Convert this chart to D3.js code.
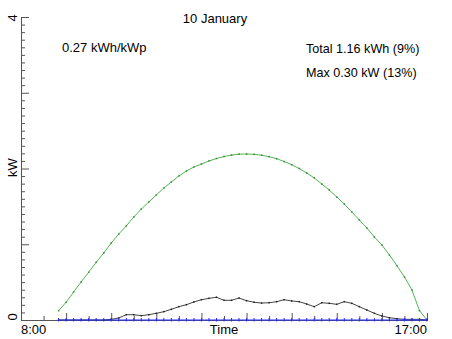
<!DOCTYPE html>
<html>
<head>
<meta charset="utf-8">
<script src="https://cdn.jsdelivr.net/npm/d3@7"></script>
<style>
  html, body { margin: 0; padding: 0; background: #fff; }
  svg { display: block; font-family: "Liberation Sans", Arial, sans-serif; }
</style>
</head>
<body>
<svg id="chart" width="452" height="339"></svg>
<script>
// Sample times (10-minute readings)
const sampleTimes = [
  "08:50","09:00","09:10","09:20","09:30","09:40","09:50","10:00","10:10","10:20",
  "10:30","10:40","10:50","11:00","11:10","11:20","11:30","11:40","11:50","12:00",
  "12:10","12:20","12:30","12:40","12:50","13:00","13:10","13:20","13:30","13:40",
  "13:50","14:00","14:10","14:20","14:30","14:40","14:50","15:00","15:10","15:20",
  "15:30","15:40","15:50","16:00","16:10","16:20","16:30","16:40","16:50","17:00"
];

// Expected (clear-sky) output, kW
const expectedKW = [
  0.123,0.234,0.370,0.502,0.630,0.762,0.884,1.017,1.135,1.241,
  1.360,1.465,1.558,1.650,1.743,1.822,1.901,1.967,2.020,2.059,
  2.099,2.132,2.158,2.178,2.189,2.191,2.187,2.176,2.156,2.129,
  2.092,2.050,2.000,1.941,1.875,1.795,1.716,1.624,1.531,1.426,
  1.320,1.215,1.096,0.990,0.858,0.717,0.568,0.396,0.123,0.000
];

// Measured output, kW
const measuredKW = [
  0.000,0.000,0.000,0.000,0.000,0.000,0.000,0.009,0.026,0.070,
  0.070,0.057,0.070,0.088,0.110,0.141,0.176,0.202,0.238,0.268,
  0.286,0.300,0.260,0.260,0.290,0.255,0.234,0.224,0.228,0.242,
  0.268,0.251,0.242,0.211,0.176,0.228,0.220,0.207,0.242,0.220,
  0.176,0.132,0.088,0.053,0.030,0.017,0.009,0.009,0.009,0.000
];

// Fault / shortfall channel, kW
const faultKW = [
  0,0,0,0,0,0,0,0,0,0, 0,0,0,0,0,0,0,0,0,0,
  0,0,0,0,0,0,0,0,0,0, 0,0,0,0,0,0,0,0,0,0,
  0,0,0,0,0,0,0,0,0,0
];

// Axis ticks and labels
const hourTicks = ["09:00","10:00","11:00","12:00","13:00","14:00","15:00","16:00","17:00"];
const halfHourTicks = ["08:30","09:30","10:30","11:30","12:30","13:30","14:30","15:30","16:30"];
const timeRange = ["08:00","17:00"];
const timeRangeLabels = ["8:00","17:00"];
const yMajorTicks = [0, 1, 2, 3, 4];
const yMinorTicks = [0.1,0.2,0.3,0.4,0.5,0.6,0.7,0.8,0.9,1.1,1.2,1.3,1.4,1.5,1.6,1.7,1.8,1.9,
                     2.1,2.2,2.3,2.4,2.5,2.6,2.7,2.8,2.9,3.1,3.2,3.3,3.4,3.5,3.6,3.7,3.8,3.9];
const yLabels = [{v: 0, t: "0"}, {v: 4, t: "4"}];

const titleText = "10 January";
const yieldText = "0.27 kWh/kWp";
const totalText = "Total 1.16 kWh (9%)";
const maxText = "Max 0.30 kW (13%)";

const toHours = s => { const [h, m] = s.split(":").map(Number); return h + m / 60; };

const svg = d3.select("#chart");
const x = d3.scaleLinear().domain(timeRange.map(toHours)).range([21, 427]);
const y = d3.scaleLinear().domain([0, 4]).range([320, 17]);

const axisColor = "#555";

// x axis: hour ticks taller than half-hour ticks, both pointing up
const xMajor = svg.append("g").attr("transform", "translate(0,320)")
  .call(d3.axisBottom(x).tickValues(hourTicks.map(toHours)).tickFormat("").tickSizeInner(-7).tickSizeOuter(0));
const xMinor = svg.append("g").attr("transform", "translate(0,320)")
  .call(d3.axisBottom(x).tickValues(halfHourTicks.map(toHours)).tickFormat("").tickSizeInner(-4).tickSizeOuter(0));

// y axis: whole-kW ticks long, tenths short, pointing right
const yMajor = svg.append("g").attr("transform", "translate(21,0)")
  .call(d3.axisLeft(y).tickValues(yMajorTicks).tickFormat("").tickSizeInner(-8).tickSizeOuter(0));
const yMinor = svg.append("g").attr("transform", "translate(21,0)")
  .call(d3.axisLeft(y).tickValues(yMinorTicks).tickFormat("").tickSizeInner(-4).tickSizeOuter(0));

[xMajor, xMinor, yMajor, yMinor].forEach(g => {
  g.selectAll("path.domain").attr("stroke", axisColor).attr("stroke-width", 1);
  g.selectAll(".tick line").attr("stroke", axisColor).attr("stroke-width", 1);
});

// series
const t = sampleTimes.map(toHours);
const series = [
  {vals: expectedKW, line: "#55b455", dot: "#2f8f2f"},
  {vals: measuredKW, line: "#444", dot: "#222"},
];
const lineGen = d3.line().x(d => x(d[0])).y(d => y(d[1]));

series.forEach(s => {
  const pts = t.map((tt, i) => [tt, s.vals[i]]);
  svg.append("path").datum(pts)
    .attr("fill", "none").attr("stroke", s.line).attr("stroke-width", 1)
    .attr("d", lineGen);
  svg.append("g").selectAll("rect").data(pts).join("rect")
    .attr("x", d => x(d[0]) - 0.75).attr("y", d => y(d[1]) - 0.75)
    .attr("width", 1.5).attr("height", 1.5).attr("fill", s.dot);
});

// fault channel with plus markers
const faultPts = t.map((tt, i) => [tt, faultKW[i]]);
svg.append("path").datum(faultPts)
  .attr("fill", "none").attr("stroke", "#2a2aff").attr("stroke-width", 1.2)
  .attr("d", lineGen);
svg.append("g").selectAll("line").data(faultPts).join("line")
  .attr("x1", d => x(d[0])).attr("x2", d => x(d[0]))
  .attr("y1", d => y(d[1]) - 2).attr("y2", d => y(d[1]) + 1.5)
  .attr("stroke", "#2a2aff").attr("stroke-width", 1);

// text
const txt = (s, xx, yy, anchor, size) => svg.append("text")
  .attr("x", xx).attr("y", yy).attr("text-anchor", anchor || "start")
  .attr("font-size", size || 13).attr("fill", "#000").text(s);

txt(titleText, 215, 22.5, "middle");
txt(yieldText, 62, 52.3);
txt(totalText, 306, 52.5, "start", 12.6);
txt(maxText, 306, 77, "start", 12.6);
txt(timeRangeLabels[0], x(toHours(timeRange[0])), 333.5, "start");
txt(timeRangeLabels[1], x(toHours(timeRange[1])), 333.5, "end");
txt("Time", (x.range()[0] + x.range()[1]) / 2, 333.5, "middle");

// rotated y labels
yLabels.forEach(l => {
  svg.append("text")
    .attr("transform", `translate(16.5,${y(l.v) + (l.v === 0 ? -3 : 1)}) rotate(-90)`)
    .attr("text-anchor", "middle").attr("font-size", 13).text(l.t);
});
svg.append("text")
  .attr("transform", `translate(16.7,${y(2) - 1}) rotate(-90)`)
  .attr("text-anchor", "middle").attr("font-size", 13).text("kW");
</script>
</body>
</html>
